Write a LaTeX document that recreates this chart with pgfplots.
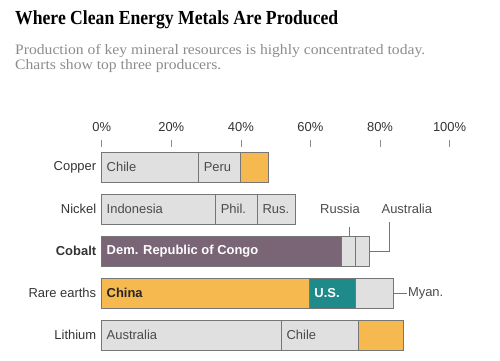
\documentclass[border=0pt]{standalone}
\usepackage{fontspec}
\setmainfont{Liberation Serif}
\setsansfont{Liberation Sans}
\usepackage{graphicx}
\usepackage{pgfplots}
\pgfplotsset{compat=1.18}
\definecolor{segGray}{HTML}{E0E0E0}
\definecolor{segBorder}{HTML}{767676}
\definecolor{segOrange}{HTML}{F5B94F}
\definecolor{segPurple}{HTML}{7A6577}
\definecolor{segTeal}{HTML}{1E8A8A}
\definecolor{subGray}{HTML}{8C8C8C}
\definecolor{txtDark}{HTML}{333333}
\definecolor{barTxt}{HTML}{4A4A4A}
\tikzset{blab/.style={font=\sffamily\fontsize{13}{15}\selectfont, text=barTxt, anchor=west, xshift=1.5bp}}
\tikzset{olab/.style={font=\sffamily\fontsize{13}{15}\selectfont, text=barTxt}}
\tikzset{lead/.style={draw=segBorder, line width=0.8bp}}
\begin{document}
\begin{tikzpicture}
\useasboundingbox (0,0) rectangle (500bp,361bp);
\node[anchor=base west, inner sep=0pt] at (15bp,336bp)
  {\resizebox{323bp}{\height}{\fontsize{20}{24}\selectfont\bfseries Where Clean Energy Metals Are Produced}};
\node[anchor=base west, inner sep=0pt, text=subGray] at (15bp,306.7bp)
  {\resizebox{410bp}{\height}{\fontsize{14.5}{15.7}\selectfont\begin{tabular}[t]{@{}l@{}}Production of key mineral resources is highly concentrated today.\\Charts show top three producers.\end{tabular}}};
\begin{axis}[
  at={(101.7bp,6.8bp)}, anchor=south west,
  x=3.479bp, y=42bp,
  xmin=0, xmax=100, ymin=-0.45, ymax=4.476,
  enlargelimits=false, clip=false,
  xbar stacked, bar width=30.5bp,
  axis x line*=top, axis y line*=left,
  axis line style={draw=none},
  tick align=outside, major tick length=7bp,
  xtick={0,20,40,60,80,100},
  xticklabels={0\%,20\%,40\%,60\%,80\%,100\%},
  xtick style={draw=black!45, line width=0.7bp},
  xticklabel style={yshift=5bp},
  ytick={0,1,2,3,4},
  yticklabels={Lithium,Rare earths,\textbf{Cobalt},Nickel,Copper},
  ytick style={draw=none},
  yticklabel style={xshift=5bp},
  tick label style={font=\sffamily\fontsize{13}{15}\selectfont, text=txtDark},
]
\addplot[draw=segBorder, line width=0.8bp, fill=segGray] coordinates {(27.9,4) (32.8,3) (0,2) (0,1) (51.7,0)};
\addplot[draw=segBorder, line width=0.8bp, fill=segPurple] coordinates {(0,4) (0,3) (69.0,2) (0,1) (0,0)};
\addplot[draw=segBorder, line width=0.8bp, fill=segOrange] coordinates {(0,4) (0,3) (0,2) (59.7,1) (0,0)};
\addplot[draw=segBorder, line width=0.8bp, fill=segGray] coordinates {(12.0,4) (12.0,3) (4.0,2) (0,1) (22.1,0)};
\addplot[draw=segBorder, line width=0.8bp, fill=segTeal] coordinates {(0,4) (0,3) (0,2) (13.1,1) (0,0)};
\addplot[draw=segBorder, line width=0.8bp, fill=segGray] coordinates {(0,4) (11.0,3) (3.9,2) (11.0,1) (0,0)};
\addplot[draw=segBorder, line width=0.8bp, fill=segOrange] coordinates {(8.1,4) (0,3) (0,2) (0,1) (12.9,0)};
\coordinate (cuA) at (axis cs:0,4);
\coordinate (cuB) at (axis cs:27.9,4);
\coordinate (niA) at (axis cs:0,3);
\coordinate (niB) at (axis cs:32.8,3);
\coordinate (niC) at (axis cs:44.8,3);
\coordinate (coA) at (axis cs:0,2);
\coordinate (reA) at (axis cs:0,1);
\coordinate (reB) at (axis cs:59.7,1);
\coordinate (liA) at (axis cs:0,0);
\coordinate (liB) at (axis cs:51.7,0);
\draw[lead] (axis cs:71.2,2.364) -- (axis cs:71.2,2.586);
\draw[lead] (axis cs:76.9,2) -- (axis cs:82.7,2) -- (axis cs:82.7,2.69);
\draw[lead] (axis cs:84.0,1) -- (axis cs:87.7,1);
\node[olab] at (axis cs:68.5,3) {Russia};
\node[olab] at (axis cs:87.7,3) {Australia};
\node[olab, anchor=west, inner sep=1bp] at (axis cs:87.7,1) {Myan.};
\end{axis}
\node[blab] at (cuA) {Chile};
\node[blab] at (cuB) {Peru};
\node[blab] at (niA) {Indonesia};
\node[blab] at (niB) {Phil.};
\node[blab] at (niC) {Rus.};
\node[blab, text=white] at (coA) {\bfseries Dem. Republic of Congo};
\node[blab, text=black!85] at (reA) {\bfseries China};
\node[blab, text=white] at (reB) {\bfseries U.S.};
\node[blab] at (liA) {Australia};
\node[blab] at (liB) {Chile};
\end{tikzpicture}
\end{document}
